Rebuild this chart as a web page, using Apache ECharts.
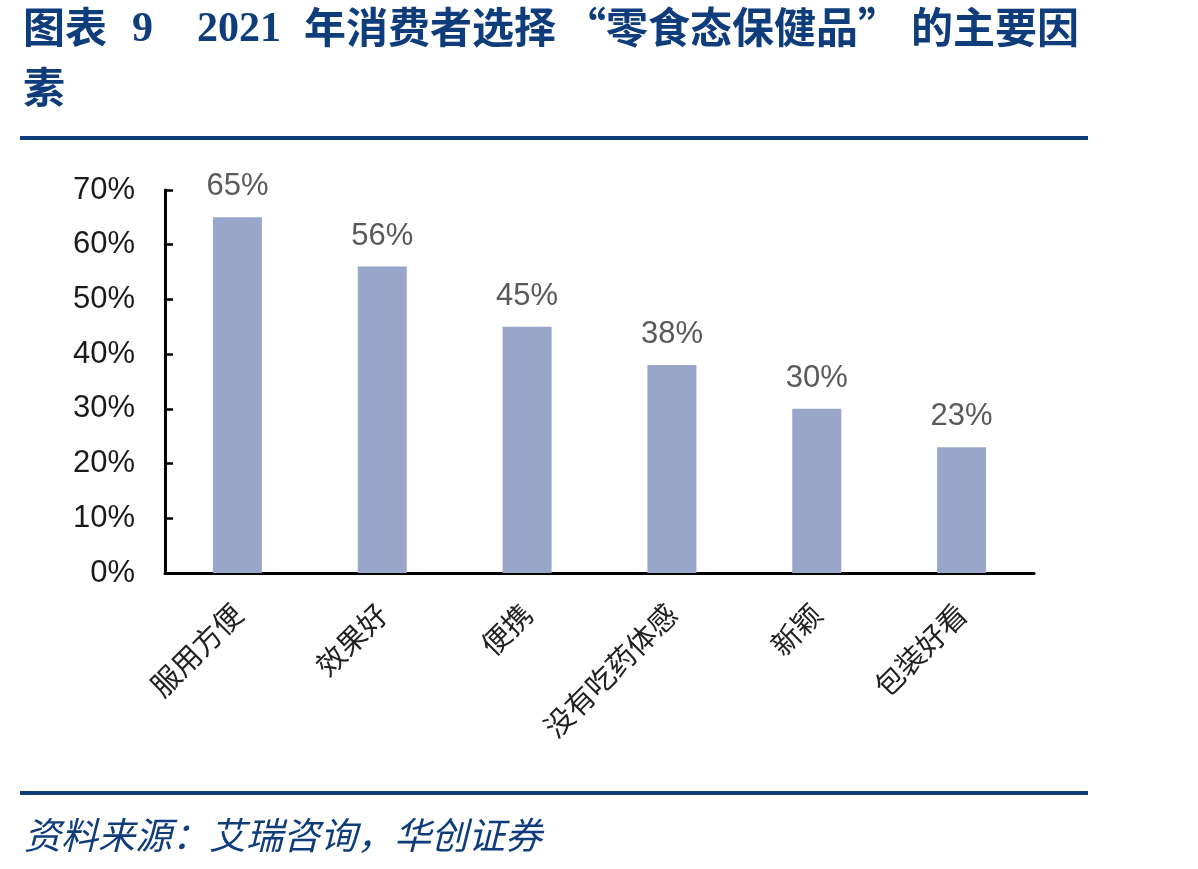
<!DOCTYPE html>
<html lang="zh">

<head>
    <meta charset="UTF-8" />
    <title>2021年消费者选择零食态保健品的主要因素</title>
    <script src="https://cdn.jsdelivr.net/npm/echarts@6/dist/echarts.min.js"></script>
    <style>
        html, body {
            margin: 0;
            padding: 0;
            background: #fff;
        }

        #chart {
            width: 1198px;
            height: 869px;
        }
    </style>
</head>

<body>
    <div id="chart"></div>

    <script>
        // 数据
        const categories = ['服用方便', '效果好', '便携', '没有吃药体感', '新颖', '包装好看'];
        const shares = [65, 56, 45, 38, 30, 23];
        const yTicks = [0, 10, 20, 30, 40, 50, 60, 70];

        const navy = '#0f3d7c';
        const cjk = '"Noto Sans CJK SC", sans-serif';

        const chart = echarts.init(document.getElementById('chart'), null, { renderer: 'canvas' });

        const option = {
            backgroundColor: '#fff',
            animation: false,
            grid: { left: 165, right: 164, top: 190, bottom: 296, containLabel: false },
            xAxis: {
                type: 'category',
                data: categories,
                boundaryGap: true,
                axisLine: { lineStyle: { color: '#000', width: 3 } },
                axisTick: { inside: true, length: 8, lineStyle: { color: '#000', width: 2.5 } },
                axisLabel: {
                    rotate: 45,
                    margin: 36,
                    fontSize: 29,
                    color: '#222',
                    fontFamily: cjk
                },
                splitLine: { show: false }
            },
            yAxis: {
                type: 'value',
                min: yTicks[0],
                max: yTicks[yTicks.length - 1],
                interval: 10,
                axisLine: { show: true, lineStyle: { color: '#000', width: 3 } },
                axisTick: { show: true, inside: true, length: 8, lineStyle: { color: '#000', width: 2.5 } },
                axisLabel: {
                    margin: 30,
                    fontSize: 31,
                    color: '#1a1a1a',
                    fontFamily: '"Liberation Sans", Arial, sans-serif',
                    formatter: v => v + '%'
                },
                splitLine: { show: false }
            },
            series: [{
                type: 'bar',
                data: shares,
                barWidth: 49,
                itemStyle: { color: '#98a6c9' },
                label: {
                    show: true,
                    position: 'top',
                    distance: 15,
                    fontSize: 31,
                    color: '#595959',
                    fontFamily: '"Liberation Sans", Arial, sans-serif',
                    formatter: p => p.value + '%'
                }
            }],
            graphic: [
                // 标题
                { type: 'text', left: 23, top: 6, style: { text: '图表', fontSize: 42, fontWeight: 'bold', fontFamily: cjk, fill: navy } },
                { type: 'text', left: 132, top: 9, style: { text: '9', fontSize: 42, fontWeight: 'bold', fontFamily: '"Liberation Serif", serif', fill: navy } },
                { type: 'text', left: 197, top: 9, style: { text: '2021', fontSize: 42, fontWeight: 'bold', fontFamily: '"Liberation Serif", serif', fill: navy } },
                { type: 'text', left: 304, top: 6, style: { text: '年消费者选择', fontSize: 42, fontWeight: 'bold', fontFamily: cjk, fill: navy } },
                { type: 'text', left: 564, top: 6, style: { text: '“零食态保健品”', fontSize: 42, fontWeight: 'bold', fontFamily: cjk, fill: navy } },
                { type: 'text', left: 911, top: 6, style: { text: '的主要因', fontSize: 42, fontWeight: 'bold', fontFamily: cjk, fill: navy } },
                { type: 'text', left: 23, top: 66, style: { text: '素', fontSize: 42, fontWeight: 'bold', fontFamily: cjk, fill: navy } },
                // 分隔线
                { type: 'rect', shape: { x: 20, y: 136, width: 1068, height: 4 }, style: { fill: navy } },
                { type: 'rect', shape: { x: 20, y: 791, width: 1068, height: 4 }, style: { fill: navy } },
                // 资料来源
                { type: 'text', left: 24, top: 816, style: { text: '资料来源：艾瑞咨询，华创证券', fontSize: 37, fontStyle: 'italic', fontFamily: cjk, fill: navy } }
            ]
        };

        chart.setOption(option);
    </script>
</body>

</html>
